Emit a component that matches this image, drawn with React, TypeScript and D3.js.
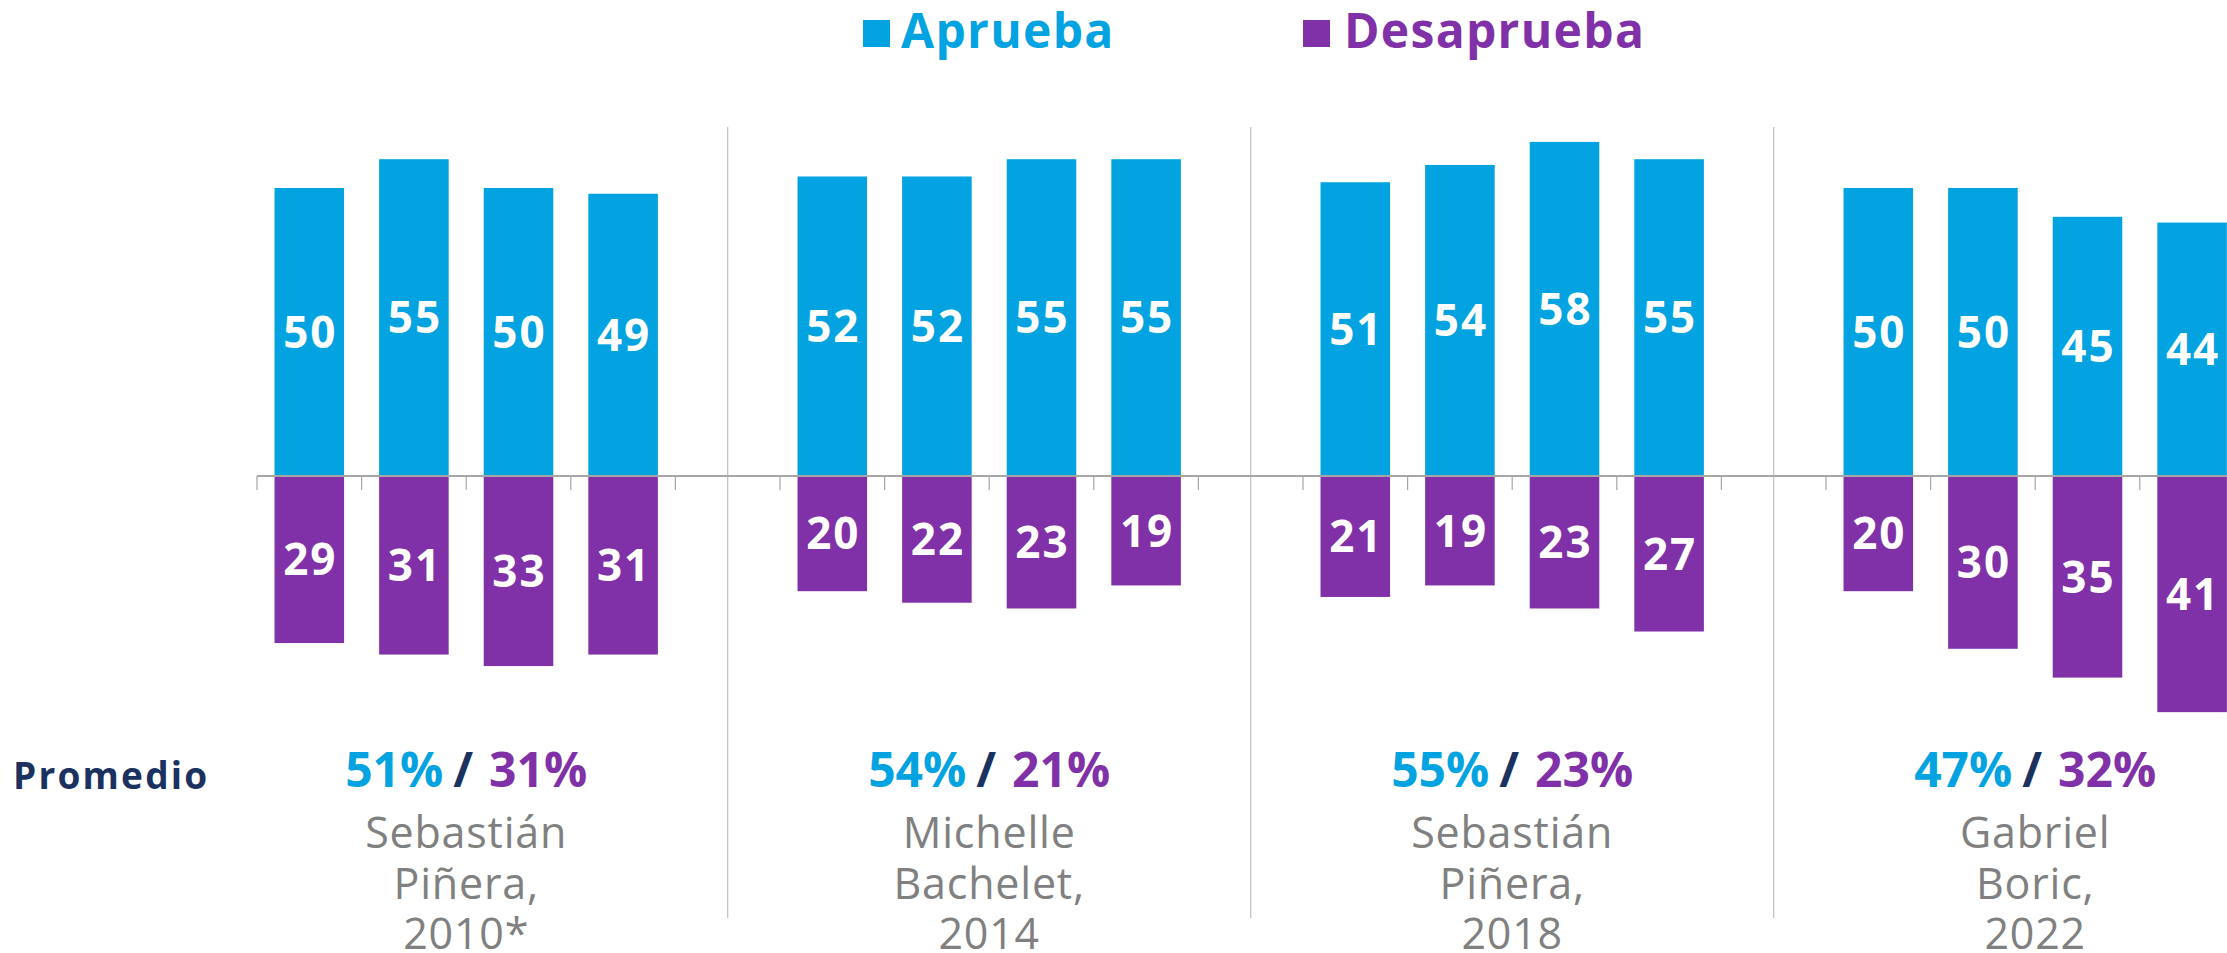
import React from "react";
import * as d3 from "d3";

const groups = ["g1", "g2", "g3", "g4"];
const nameLines = [
  ["Sebastián", "Piñera,", "2010*"],
  ["Michelle", "Bachelet,", "2014"],
  ["Sebastián", "Piñera,", "2018"],
  ["Gabriel", "Boric,", "2022"],
];
const aprueba = [
  [50, 55, 50, 49],
  [52, 52, 55, 55],
  [51, 54, 58, 55],
  [50, 50, 45, 44],
];
const desaprueba = [
  [29, 31, 33, 31],
  [20, 22, 23, 19],
  [21, 19, 23, 27],
  [20, 30, 35, 41],
];
const promAprueba = [51, 54, 55, 47];
const promDesaprueba = [31, 21, 23, 32];
const legendLabels = ["Aprueba", "Desaprueba"];

const BLUE = "#02A3E0";
const PURPLE = "#8031A7";
const NAVY = "#1B3160";
const GREY = "#808080";
const AXIS = "#A6A6A6";
const FONT = "'Open Sans', 'Noto Sans', sans-serif";

const W = 2227;
const H = 953;
const SLOTS_PER_GROUP = 5;

export default function App() {
  const slotIds = d3.range(groups.length * SLOTS_PER_GROUP);
  const step = 104.6;
  const x0 = 257;
  const x = d3
    .scaleBand<number>()
    .domain(slotIds)
    .range([x0, x0 + slotIds.length * step])
    .paddingInner(0.335)
    .paddingOuter(0.1675);
  const zeroY = 476;
  const y = d3.scaleLinear().domain([-60, 60]).range([zeroY + 60 * 5.76, zeroY - 60 * 5.76]);
  const bw = x.bandwidth();
  const slotStart = (i: number) => x0 + i * step;

  const groupCenter = (g: number) =>
    (slotStart(g * SLOTS_PER_GROUP) + slotStart(g * SLOTS_PER_GROUP + 4)) / 2;

  return (
    <svg
      width={W}
      height={H}
      style={{ position: "absolute", left: 0, top: 0, background: "#fff" }}
      fontFamily={FONT}
    >
      {/* legend */}
      <rect x={863} y={20} width={27} height={27} fill={BLUE} />
      <text x={901} y={47.5} fontSize={48} fontWeight={700} fill={BLUE} letterSpacing={1.3}>
        {legendLabels[0]}
      </text>
      <rect x={1303} y={20} width={27} height={27} fill={PURPLE} />
      <text x={1344} y={47.5} fontSize={48} fontWeight={700} fill={PURPLE} letterSpacing={1.3}>
        {legendLabels[1]}
      </text>

      {/* separators */}
      {groups.map((g, gi) => {
        const sx = x(gi * SLOTS_PER_GROUP + 4)! + bw / 2;
        return (
          <line key={"sep" + g} x1={sx} x2={sx} y1={127} y2={918} stroke="#BFBFBF" strokeWidth={1.2} />
        );
      })}

      {/* bars */}
      {groups.map((g, gi) =>
        aprueba[gi].map((v, i) => {
          const sid = gi * SLOTS_PER_GROUP + i;
          const bx = x(sid)!;
          const d = desaprueba[gi][i];
          return (
            <g key={g + i}>
              <rect x={bx} y={y(v)} width={bw} height={y(0) - y(v)} fill={BLUE} />
              <rect x={bx} y={y(0)} width={bw} height={y(-d) - y(0)} fill={PURPLE} />
            </g>
          );
        })
      )}

      {/* axis */}
      <line x1={x0} x2={W} y1={zeroY} y2={zeroY} stroke={AXIS} strokeWidth={2} />
      {d3.range(slotIds.length + 1).map((i) => (
        <line
          key={"t" + i}
          x1={slotStart(i)}
          x2={slotStart(i)}
          y1={zeroY}
          y2={zeroY + 14}
          stroke={AXIS}
          strokeWidth={1.2}
        />
      ))}

      {/* bar labels */}
      {groups.map((g, gi) =>
        aprueba[gi].map((v, i) => {
          const sid = gi * SLOTS_PER_GROUP + i;
          const cx = x(sid)! + bw / 2;
          const d = desaprueba[gi][i];
          return (
            <g key={"l" + g + i} fontSize={44} fontWeight={700} fill="#fff" textAnchor="middle" letterSpacing={2}>
              <text x={cx + 1} y={(y(v) + y(0)) / 2} dy="0.36em">
                {v}
              </text>
              <text x={cx + 1} y={(y(-d) + y(0)) / 2} dy="0.36em">
                {d}
              </text>
            </g>
          );
        })
      )}

      {/* Promedio */}
      <text x={13} y={789} fontSize={37} fontWeight={700} fill={NAVY} letterSpacing={2.2}>
        Promedio
      </text>

      {groups.map((g, gi) => {
        const cx = groupCenter(gi);
        return (
          <g key={"p" + g}>
            <text x={cx} y={787} fontSize={48} fontWeight={700} textAnchor="middle">
              <tspan fill={BLUE}>{promAprueba[gi]}%</tspan>
              <tspan fill={NAVY} dx={10}>/</tspan>
              <tspan fill={PURPLE} dx={16}>{promDesaprueba[gi]}%</tspan>
            </text>
            {nameLines[gi].map((ln, li) => (
              <text
                key={li}
                x={cx}
                y={848 + li * 50.5}
                fontSize={43}
                fontWeight={400}
                fill={GREY}
                textAnchor="middle"
                letterSpacing={0.8}
              >
                {ln}
              </text>
            ))}
          </g>
        );
      })}
    </svg>
  );
}
